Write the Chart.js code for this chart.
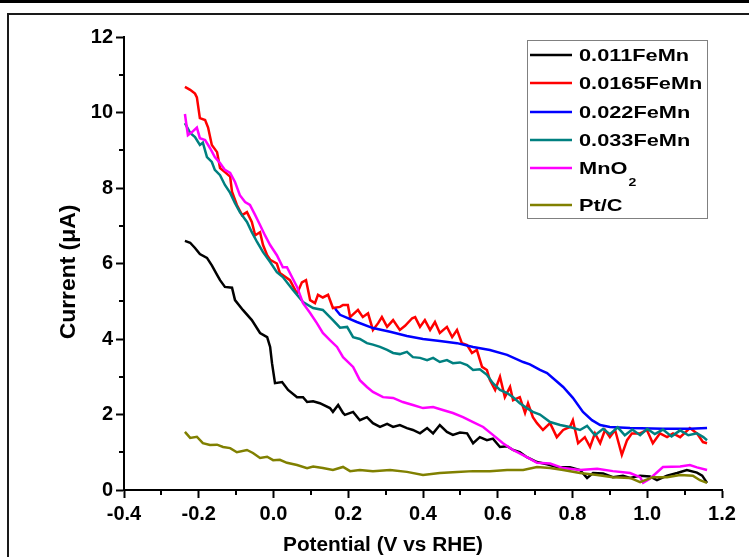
<!DOCTYPE html>
<html><head><meta charset="utf-8">
<script src="https://cdn.jsdelivr.net/npm/chart.js@4.4.1/dist/chart.umd.min.js"></script>
<style>html,body{margin:0;padding:0;background:#fff;}</style>
</head><body>
<canvas id="c" width="749" height="557"></canvas>
<script>
// ---- data (potential V vs RHE, current µA) ----
const s011FeMn = [[-0.237,6.6],[-0.223,6.55],[-0.210,6.41],[-0.197,6.25],[-0.178,6.15],[-0.165,5.95],[-0.151,5.7],[-0.143,5.56],[-0.130,5.38],[-0.111,5.36],[-0.103,5.03],[-0.082,4.77],[-0.058,4.5],[-0.036,4.16],[-0.017,4.05],[-0.009,3.79],[-0.004,3.36],[0.004,2.83],[0.023,2.86],[0.039,2.65],[0.063,2.46],[0.079,2.46],[0.090,2.33],[0.106,2.35],[0.124,2.3],[0.151,2.17],[0.159,2.07],[0.173,2.25],[0.186,2.04],[0.191,1.99],[0.213,2.07],[0.231,1.85],[0.250,1.93],[0.266,1.77],[0.285,1.67],[0.304,1.75],[0.320,1.67],[0.338,1.72],[0.357,1.64],[0.373,1.59],[0.392,1.5],[0.411,1.64],[0.427,1.5],[0.445,1.72],[0.464,1.54],[0.480,1.46],[0.499,1.52],[0.518,1.5],[0.534,1.24],[0.552,1.4],[0.571,1.32],[0.587,1.36],[0.606,1.14],[0.625,1.16],[0.641,1.06],[0.659,1.0],[0.678,0.87],[0.705,0.74],[0.732,0.68],[0.758,0.61],[0.793,0.6],[0.820,0.53],[0.839,0.32],[0.855,0.45],[0.882,0.44],[0.908,0.34],[0.935,0.38],[0.954,0.32],[0.981,0.38],[1.007,0.36],[1.026,0.26],[1.053,0.38],[1.080,0.45],[1.106,0.53],[1.133,0.46],[1.147,0.38],[1.160,0.19]];
const s0165FeMn = [[-0.237,10.68],[-0.223,10.6],[-0.210,10.5],[-0.205,10.4],[-0.197,9.85],[-0.183,9.8],[-0.175,9.6],[-0.165,9.14],[-0.151,8.95],[-0.143,8.53],[-0.130,8.42],[-0.116,8.3],[-0.111,7.9],[-0.098,7.55],[-0.084,7.28],[-0.071,7.36],[-0.058,7.1],[-0.049,6.75],[-0.036,6.83],[-0.028,6.49],[-0.017,6.22],[-0.009,6.1],[0.009,6.0],[0.017,5.75],[0.044,5.56],[0.063,5.2],[0.076,5.5],[0.087,5.56],[0.098,5.03],[0.111,4.95],[0.119,5.17],[0.132,5.1],[0.146,5.17],[0.159,4.82],[0.178,4.85],[0.186,4.9],[0.199,4.9],[0.205,4.58],[0.226,4.77],[0.239,4.58],[0.253,4.68],[0.266,4.24],[0.280,4.42],[0.290,4.58],[0.304,4.32],[0.320,4.5],[0.338,4.24],[0.352,4.35],[0.371,4.55],[0.379,4.58],[0.392,4.32],[0.405,4.5],[0.419,4.24],[0.432,4.45],[0.445,4.16],[0.464,4.32],[0.478,4.05],[0.491,4.24],[0.504,3.89],[0.518,3.84],[0.531,3.63],[0.544,3.71],[0.558,3.26],[0.571,3.18],[0.579,2.91],[0.593,2.65],[0.606,3.0],[0.619,2.46],[0.633,2.73],[0.641,2.38],[0.659,2.46],[0.673,2.04],[0.681,2.3],[0.694,1.93],[0.705,1.77],[0.721,1.59],[0.740,1.77],[0.758,1.4],[0.775,1.59],[0.793,1.67],[0.801,1.85],[0.815,1.24],[0.833,1.4],[0.847,1.14],[0.860,1.5],[0.874,1.24],[0.887,1.59],[0.900,1.4],[0.914,1.59],[0.932,0.93],[0.946,1.32],[0.959,1.5],[0.981,1.5],[0.999,1.59],[1.015,1.24],[1.034,1.5],[1.053,1.4],[1.069,1.5],[1.088,1.4],[1.114,1.64],[1.133,1.5],[1.149,1.27],[1.160,1.24]];
const s022FeMn = [[0.165,4.8],[0.178,4.64],[0.223,4.45],[0.266,4.29],[0.312,4.19],[0.357,4.08],[0.400,4.0],[0.445,3.95],[0.491,3.89],[0.534,3.79],[0.579,3.71],[0.625,3.58],[0.668,3.39],[0.686,3.33],[0.713,3.18],[0.732,3.1],[0.775,2.73],[0.801,2.44],[0.828,2.07],[0.852,1.85],[0.874,1.72],[0.900,1.67],[0.954,1.64],[1.042,1.62],[1.114,1.62],[1.160,1.64]];
const s033FeMn = [[-0.237,9.72],[-0.223,9.46],[-0.210,9.35],[-0.197,9.14],[-0.189,9.2],[-0.178,8.82],[-0.165,8.69],[-0.157,8.48],[-0.143,8.34],[-0.130,8.08],[-0.116,7.87],[-0.103,7.6],[-0.090,7.36],[-0.071,7.1],[-0.058,6.83],[-0.044,6.57],[-0.028,6.3],[-0.009,6.04],[0.009,5.77],[0.025,5.64],[0.052,5.3],[0.079,4.98],[0.106,4.82],[0.132,4.77],[0.159,4.5],[0.178,4.3],[0.197,4.32],[0.213,4.05],[0.231,4.0],[0.250,3.89],[0.266,3.85],[0.285,3.79],[0.304,3.71],[0.320,3.63],[0.338,3.6],[0.357,3.66],[0.373,3.52],[0.392,3.5],[0.411,3.44],[0.427,3.5],[0.445,3.39],[0.464,3.44],[0.480,3.36],[0.499,3.38],[0.518,3.31],[0.534,3.18],[0.552,3.2],[0.571,3.05],[0.587,2.83],[0.606,2.65],[0.625,2.57],[0.641,2.46],[0.659,2.3],[0.678,2.17],[0.694,2.07],[0.713,2.0],[0.740,1.8],[0.767,1.72],[0.793,1.67],[0.820,1.59],[0.839,1.7],[0.860,1.45],[0.882,1.62],[0.900,1.48],[0.921,1.66],[0.940,1.45],[0.960,1.6],[0.981,1.45],[1.000,1.62],[1.020,1.48],[1.042,1.6],[1.065,1.42],[1.088,1.58],[1.110,1.45],[1.133,1.5],[1.150,1.4],[1.160,1.32]];
const sMnO2 = [[-0.237,9.96],[-0.229,9.4],[-0.218,9.48],[-0.205,9.6],[-0.197,9.32],[-0.183,9.27],[-0.170,9.06],[-0.157,8.82],[-0.143,8.66],[-0.130,8.48],[-0.116,8.4],[-0.103,8.16],[-0.090,7.81],[-0.076,7.63],[-0.063,7.55],[-0.049,7.28],[-0.036,7.02],[-0.023,6.75],[-0.009,6.49],[0.009,6.22],[0.025,5.9],[0.036,5.9],[0.063,5.38],[0.079,4.95],[0.098,4.69],[0.116,4.42],[0.132,4.16],[0.151,3.97],[0.170,3.79],[0.186,3.52],[0.213,3.26],[0.231,2.91],[0.250,2.73],[0.266,2.6],[0.293,2.46],[0.320,2.44],[0.346,2.33],[0.373,2.25],[0.400,2.17],[0.427,2.2],[0.453,2.12],[0.480,2.04],[0.507,1.93],[0.534,1.8],[0.561,1.67],[0.587,1.46],[0.614,1.24],[0.641,1.06],[0.678,0.87],[0.705,0.72],[0.740,0.7],[0.775,0.58],[0.820,0.53],[0.866,0.56],[0.908,0.5],[0.954,0.45],[0.981,0.34],[0.989,0.19],[1.007,0.3],[1.042,0.61],[1.088,0.62],[1.114,0.66],[1.133,0.6],[1.160,0.53]];
const sPtC = [[-0.237,1.54],[-0.223,1.38],[-0.205,1.41],[-0.189,1.24],[-0.170,1.19],[-0.151,1.2],[-0.135,1.14],[-0.116,1.11],[-0.098,1.0],[-0.071,1.06],[-0.055,0.98],[-0.036,0.85],[-0.017,0.88],[-0.001,0.79],[0.017,0.8],[0.036,0.72],[0.063,0.66],[0.090,0.58],[0.106,0.62],[0.132,0.58],[0.159,0.53],[0.186,0.61],[0.205,0.5],[0.231,0.53],[0.266,0.5],[0.312,0.53],[0.357,0.48],[0.400,0.4],[0.445,0.45],[0.491,0.48],[0.534,0.5],[0.579,0.5],[0.625,0.53],[0.668,0.53],[0.705,0.61],[0.740,0.58],[0.775,0.53],[0.820,0.45],[0.866,0.4],[0.908,0.34],[0.954,0.32],[0.981,0.21],[1.015,0.34],[1.053,0.34],[1.088,0.4],[1.122,0.38],[1.141,0.26],[1.160,0.19]];

const seriesLabels = ['0.011FeMn','0.0165FeMn','0.022FeMn','0.033FeMn','MnO₂','Pt/C'];
const seriesData = [s011FeMn, s0165FeMn, s022FeMn, s033FeMn, sMnO2, sPtC];
const seriesColors = ['#000000','#ff0000','#0000ff','#008080','#ff00ff','#808000'];

const xTickValues = [-0.4,-0.2,0.0,0.2,0.4,0.6,0.8,1.0,1.2];
const xTickLabels = ['-0.4','-0.2','0.0','0.2','0.4','0.6','0.8','1.0','1.2'];
const xMinor = [-0.3,-0.1,0.1,0.3,0.5,0.7,0.9,1.1];
const yTickValues = [0,2,4,6,8,10,12];
const yTickLabels = ['0','2','4','6','8','10','12'];
const yMinor = [1,3,5,7,9,11];
const xTitle = 'Potential (V vs RHE)';
const yTitle = 'Current (μA)';

const FONT = "'Liberation Sans', Arial, sans-serif";

const framePlugin = {
  id: 'frame',
  beforeDraw(chart) {
    const ctx = chart.ctx;
    ctx.save();
    ctx.fillStyle = '#fff';
    ctx.fillRect(0, 0, chart.width, chart.height);
    ctx.fillStyle = '#000';
    ctx.fillRect(0, 0, chart.width, 3);
    ctx.strokeStyle = '#1a1a1a';
    ctx.lineWidth = 2;
    ctx.beginPath();
    ctx.moveTo(8, chart.height + 2);
    ctx.lineTo(8, 14);
    ctx.lineTo(chart.width + 2, 14);
    ctx.stroke();
    ctx.restore();
  }
};

const axisExtrasPlugin = {
  id: 'axisExtras',
  afterDraw(chart) {
    const ctx = chart.ctx, xs = chart.scales.x, ys = chart.scales.y;
    ctx.save();
    ctx.strokeStyle = '#000';
    ctx.lineWidth = 2;
    ctx.beginPath();
    xMinor.forEach(v => { const p = Math.round(xs.getPixelForValue(v)); ctx.moveTo(p, xs.top); ctx.lineTo(p, xs.top + 5); });
    yMinor.forEach(v => { const p = Math.round(ys.getPixelForValue(v)); ctx.moveTo(ys.right, p); ctx.lineTo(ys.right - 5, p); });
    ctx.stroke();
    // axis titles
    ctx.fillStyle = '#000';
    ctx.textAlign = 'center';
    ctx.textBaseline = 'middle';
    ctx.save();
    ctx.translate(383, 545);
    ctx.scale(1.04, 1);
    ctx.font = 'bold 20px ' + FONT;
    ctx.fillText(xTitle, 0, 0);
    ctx.restore();
    ctx.save();
    ctx.translate(69, 272);
    ctx.rotate(-Math.PI / 2);
    ctx.scale(1.04, 1);
    ctx.font = 'bold 22px ' + FONT;
    ctx.fillText(yTitle, 0, 0);
    ctx.restore();
    ctx.restore();
  }
};

const legendPlugin = {
  id: 'boxLegend',
  afterDraw(chart) {
    const ctx = chart.ctx;
    const rows = [55, 83, 112, 140, 168, 205];
    ctx.save();
    ctx.strokeStyle = '#808080';
    ctx.lineWidth = 1;
    ctx.strokeRect(527.5, 40.5, 180, 178);
    chart.data.datasets.forEach((ds, i) => {
      const y = rows[i];
      ctx.strokeStyle = ds.borderColor;
      ctx.lineWidth = 2.5;
      ctx.beginPath(); ctx.moveTo(530, y); ctx.lineTo(572, y); ctx.stroke();
      ctx.fillStyle = '#000';
      ctx.textBaseline = 'middle';
      ctx.textAlign = 'left';
      let label = ds.label, sub = '';
      if (label.endsWith('₂')) { label = label.slice(0, -1); sub = '2'; }
      ctx.save();
      ctx.translate(579, y + 1);
      ctx.scale(1.28, 1);
      ctx.font = 'bold 17px ' + FONT;
      ctx.fillText(label, 0, 0);
      if (sub) {
        const w = ctx.measureText(label).width;
        ctx.font = 'bold 11px ' + FONT;
        ctx.fillText(sub, w + 1, 14);
      }
      ctx.restore();
    });
    ctx.restore();
  }
};

new Chart(document.getElementById('c'), {
  type: 'line',
  data: {
    datasets: seriesData.map((d, i) => ({
      label: seriesLabels[i],
      data: d.map(p => ({x: p[0], y: p[1]})),
      borderColor: seriesColors[i],
      backgroundColor: seriesColors[i],
      borderWidth: 2.5,
      pointRadius: 0,
      tension: 0,
      fill: false,
      order: seriesData.length - i
    }))
  },
  options: {
    responsive: false,
    devicePixelRatio: 1,
    animation: false,
    layout: { padding: { left: 52, right: 27, top: 37, bottom: 0 } },
    plugins: { legend: { display: false }, tooltip: { enabled: false } },
    scales: {
      x: {
        type: 'linear', min: -0.4, max: 1.2,
        afterFit: s => { s.height = 67; },
        afterBuildTicks: s => { s.ticks = xTickValues.map(v => ({value: v})); },
        ticks: { callback: (v, i) => xTickLabels[i], color: '#000', font: { family: FONT, size: 20, weight: 'bold' }, padding: 4, maxRotation: 0, autoSkip: false },
        grid: { drawOnChartArea: false, drawTicks: true, tickLength: 8, tickWidth: 2, tickColor: '#000' },
        border: { display: true, color: '#000', width: 2 },
        title: { display: false }
      },
      y: {
        type: 'linear', min: 0, max: 12,
        afterFit: s => { s.width = 72; },
        afterBuildTicks: s => { s.ticks = yTickValues.map(v => ({value: v})); },
        ticks: { callback: (v, i) => yTickLabels[i], color: '#000', font: { family: FONT, size: 20, weight: 'bold' }, padding: 3, autoSkip: false },
        grid: { drawOnChartArea: false, drawTicks: true, tickLength: 8, tickWidth: 2, tickColor: '#000' },
        border: { display: true, color: '#000', width: 2 },
        title: { display: false }
      }
    }
  },
  plugins: [framePlugin, axisExtrasPlugin, legendPlugin]
});
</script>
</body></html>
